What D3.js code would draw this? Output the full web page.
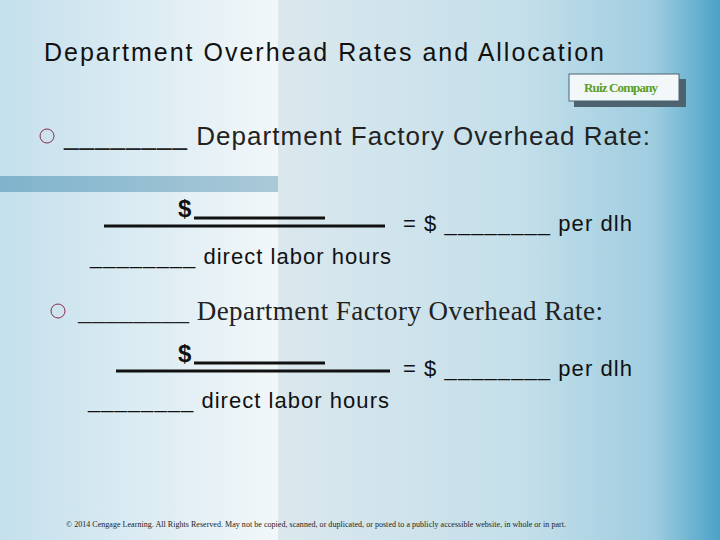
<!DOCTYPE html>
<html><head><meta charset="utf-8">
<script src="https://cdn.jsdelivr.net/npm/d3@7"></script>
<style>body{margin:0}svg{display:block}</style>
</head><body>
<script>
var title = 'Department Overhead Rates and Allocation';
var badge = 'Ruiz Company';
var headings = ['________ Department Factory Overhead Rate:', '________ Department Factory Overhead Rate:'];
var headingFonts = ['Liberation Sans', 'Liberation Serif'];
var rateText = '= $ ________ per dlh';
var denomText = '________ direct labor hours';
var footer = '\u00a9 2014 Cengage Learning.  All Rights Reserved. May not be copied, scanned, or duplicated, or posted to a publicly accessible website, in whole or in part.';

var svg = d3.select('body').append('svg').attr('width', 720).attr('height', 540);
var defs = svg.append('defs');

var g1 = defs.append('linearGradient').attr('id', 'bgL').attr('x1', 0).attr('x2', 1);
g1.append('stop').attr('offset', 0).attr('stop-color', '#c4e0ec');
g1.append('stop').attr('offset', 1).attr('stop-color', '#f2f7f9');
var g2 = defs.append('linearGradient').attr('id', 'bgR').attr('x1', 0).attr('x2', 1);
g2.append('stop').attr('offset', 0).attr('stop-color', '#dbe8ee');
g2.append('stop').attr('offset', 0.55).attr('stop-color', '#c4dfea');
g2.append('stop').attr('offset', 0.85).attr('stop-color', '#9fcde0');
g2.append('stop').attr('offset', 1).attr('stop-color', '#4aa2c8');
var g3 = defs.append('linearGradient').attr('id', 'band').attr('x1', 0).attr('x2', 1);
g3.append('stop').attr('offset', 0).attr('stop-color', '#7fb3cc');
g3.append('stop').attr('offset', 1).attr('stop-color', '#aac9d8');

svg.append('rect').attr('width', 278).attr('height', 540).attr('fill', 'url(#bgL)');
svg.append('rect').attr('x', 278).attr('width', 442).attr('height', 540).attr('fill', 'url(#bgR)');
svg.append('rect').attr('y', 176).attr('width', 278).attr('height', 16).attr('fill', 'url(#band)');

svg.append('text').attr('x', 44).attr('y', 61).attr('font-family', 'Liberation Sans')
  .attr('font-size', 25).attr('fill', '#111').attr('textLength', 560).text(title);

// badge
svg.append('rect').attr('x', 574).attr('y', 79).attr('width', 112).attr('height', 28).attr('fill', '#4d6470');
svg.append('rect').attr('x', 569).attr('y', 74).attr('width', 110).attr('height', 27)
  .attr('fill', '#f2f8fa').attr('stroke', '#4d6470');
svg.append('text').attr('x', 584).attr('y', 92)
  .attr('font-family', 'Liberation Serif').attr('font-weight', 'bold').attr('font-size', 13)
  .attr('fill', '#5a9e2a').attr('textLength', 74).text(badge);

var blocks = [
  {y: 145, bx: 47, tx: 64, tw: 586, fs: 26, num: 213, rate: 231, den: 264, lx1: 104, lx2: 385, dx: 90},
  {y: 320, bx: 58, tx: 78, tw: 525, fs: 27, num: 358, rate: 376, den: 408, lx1: 116, lx2: 390, dx: 88}
];
blocks.forEach(function (b, i) {
  svg.append('circle').attr('cx', b.bx).attr('cy', b.y - 9).attr('r', 7)
    .attr('fill', 'none').attr('stroke', '#8b2a4a').attr('stroke-width', 1);
  svg.append('text').attr('x', b.tx).attr('y', b.y).attr('font-family', headingFonts[i])
    .attr('font-size', b.fs).attr('fill', '#222').attr('textLength', b.tw).text(headings[i]);
  svg.append('text').attr('x', 178).attr('y', b.num + 4).attr('font-family', 'Liberation Sans')
    .attr('font-weight', 'bold').attr('font-size', 24).attr('fill', '#111').text('$');
  svg.append('line').attr('x1', 194).attr('x2', 325).attr('y1', b.num + 5).attr('y2', b.num + 5)
    .attr('stroke', '#111').attr('stroke-width', 3);
  svg.append('line').attr('x1', b.lx1).attr('x2', b.lx2).attr('y1', b.rate - 5).attr('y2', b.rate - 5)
    .attr('stroke', '#111').attr('stroke-width', 3);
  svg.append('text').attr('x', 403).attr('y', b.rate).attr('font-family', 'Liberation Sans')
    .attr('font-size', 22).attr('fill', '#111').attr('textLength', 229).text(rateText);
  svg.append('text').attr('x', b.dx).attr('y', b.den).attr('font-family', 'Liberation Sans')
    .attr('font-size', 22).attr('fill', '#111').attr('textLength', 301).text(denomText);
});

svg.append('text').attr('x', 66).attr('y', 527).attr('font-family', 'Liberation Serif')
  .attr('font-size', 8).attr('fill', '#222').attr('textLength', 500).text(footer);
</script>
</body></html>
